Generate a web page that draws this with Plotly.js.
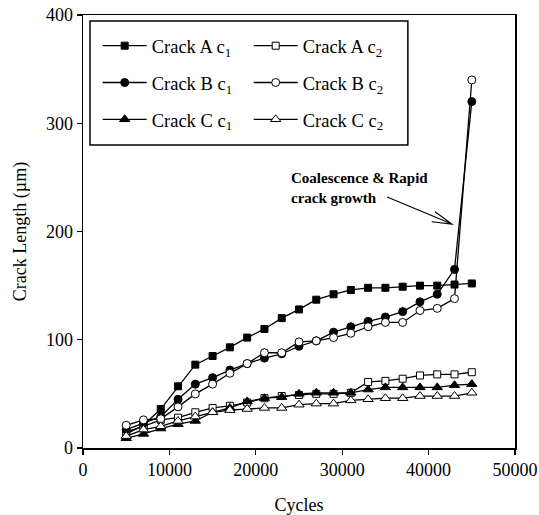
<!DOCTYPE html>
<html>
<head>
<meta charset="utf-8">
<script src="https://cdn.plot.ly/plotly-3.0.1.min.js"></script>
<style>html,body{margin:0;padding:0;background:#fff;}#chart{width:539px;height:515px;}</style>
</head>
<body>
<div id="chart"></div>
<script>
const cycles = [5000, 7000, 9000, 11000, 13000, 15000, 17000, 19000, 21000, 23000, 25000, 27000, 29000, 31000, 33000, 35000, 37000, 39000, 41000, 43000, 45000];
const crackA_c1 = [13, 21, 36, 57, 77, 85, 93, 102, 110, 120, 128, 137, 142, 146, 148, 148, 149, 150, 150, 151, 152];
const crackA_c2 = [15, 20, 26, 28, 33, 37, 39, 42, 46, 48, 49, 50, 50, 51, 61, 62, 64, 67, 68, 68, 70];
const crackB_c1 = [17, 23, 29, 45, 59, 65, 72, 78, 83, 87, 94, 99, 107, 112, 117, 121, 126, 135, 142, 165, 320];
const crackB_c2 = [21, 26, 27, 38, 50, 59, 69, 78, 88, 88, 98, 99, 102, 106, 112, 116, 116, 127, 129, 138, 340];
const crackC_c1 = [9, 13, 18, 22, 25, 33, 37, 43, 46, 47, 50, 51, 51, 51, 54, 56, 56, 56, 56, 58, 59];
const crackC_c2 = [11, 17, 20, 25, 29, 33, 35, 36, 37, 37, 40, 41, 41, 44, 45, 46, 46, 48, 48, 48, 51];
const xTicks = [0, 10000, 20000, 30000, 40000, 50000];
const yTicks = [0, 100, 200, 300, 400];

const FONT = 'Liberation Serif';
function tr(name, y, symbol, filled, size, leg) {
  return {
    x: cycles, y: y, name: name, type: 'scatter', mode: 'lines+markers',
    legend: leg,
    line: {color: '#000', width: 1.3},
    marker: {symbol: symbol, size: size, color: filled ? '#000' : '#fff',
             line: {color: '#000', width: 1}}
  };
}
const data = [
  tr('Crack A c<sub>1</sub>', crackA_c1, 'square', true, 7, 'legend'),
  tr('Crack A c<sub>2</sub>', crackA_c2, 'square', false, 7, 'legend'),
  tr('Crack B c<sub>1</sub>', crackB_c1, 'circle', true, 8, 'legend2'),
  tr('Crack B c<sub>2</sub>', crackB_c2, 'circle', false, 8, 'legend2'),
  tr('Crack C c<sub>1</sub>', crackC_c1, 'triangle-up', true, 9, 'legend3'),
  tr('Crack C c<sub>2</sub>', crackC_c2, 'triangle-up', false, 9, 'legend3')
];
function leg(y) {
  return {orientation: 'h', x: 0.034, xanchor: 'left', y: y, yanchor: 'middle',
          bgcolor: 'rgba(0,0,0,0)', borderwidth: 0, itemwidth: 44,
          entrywidth: 92, entrywidthmode: 'pixels',
          font: {family: FONT, size: 18.5, color: '#000'}};
}
const layout = {
  width: 539, height: 515,
  margin: {l: 83, r: 24, t: 15, b: 67},
  paper_bgcolor: '#fff', plot_bgcolor: '#fff',
  font: {family: FONT, color: '#000'},
  showlegend: true,
  legend: leg(0.928), legend2: leg(0.843), legend3: leg(0.758),
  xaxis: {
    range: [0, 50000], tickvals: xTicks, tickformat: 'd',
    ticks: 'outside', ticklen: 5, tickwidth: 1.2, tickcolor: '#000',
    showline: true, linecolor: '#000', linewidth: 1.5, mirror: true,
    showgrid: false, zeroline: false,
    tickfont: {family: FONT, size: 18, color: '#000'},
    title: {text: 'Cycles', font: {family: FONT, size: 18, color: '#000'}, standoff: 20}
  },
  yaxis: {
    range: [0, 400], tickvals: yTicks,
    ticks: 'outside', ticklen: 5, tickwidth: 1.2, tickcolor: '#000',
    showline: true, linecolor: '#000', linewidth: 1.5, mirror: true,
    showgrid: false, zeroline: false,
    tickfont: {family: FONT, size: 18, color: '#000'},
    title: {text: 'Crack Length (µm)', font: {family: FONT, size: 18, color: '#000'}, standoff: 14}
  },
  shapes: [
    {type: 'rect', xref: 'paper', yref: 'paper', x0: 0.0162, x1: 0.752, y0: 0.70, y1: 0.986,
     line: {color: '#000', width: 1.5}, fillcolor: 'rgba(0,0,0,0)'},
    {type: 'path', xref: 'x', yref: 'y',
     path: 'M35200,231.9 L42700,206.9 M40740,218.3 L42700,206.9 L40360,209',
     line: {color: '#000', width: 1.2}}
  ],
  annotations: [
    {x: 23840, y: 240.6, xref: 'x', yref: 'y', xanchor: 'left', yanchor: 'middle', align: 'left',
     showarrow: false, text: '<b>Coalescence &amp; Rapid<br>crack growth</b>',
     font: {family: FONT, size: 15, color: '#000'}}
  ]
};
Plotly.newPlot('chart', data, layout, {displayModeBar: false, staticPlot: true});
</script>
</body>
</html>
